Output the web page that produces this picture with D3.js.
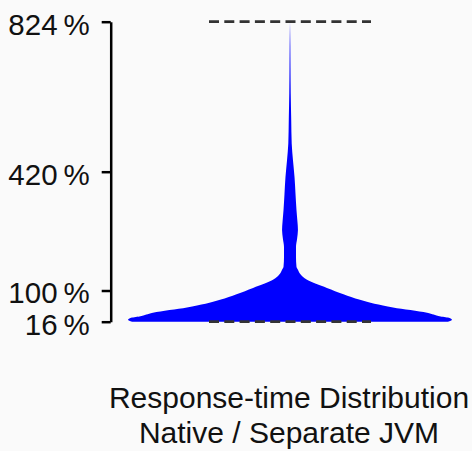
<!DOCTYPE html>
<html>
<head>
<meta charset="utf-8">
<script src="https://cdn.jsdelivr.net/npm/d3@7"></script>
<style>
  body { margin: 0; background: #fafafa; }
  svg { display: block; }
  text { font-family: "Liberation Sans", sans-serif; fill: #111; }
</style>
</head>
<body>
<div id="chart"></div>
<script>
// response time levels (percent) and relative kernel density
var levels  = [16, 21, 26, 30, 40, 54, 75, 90, 107, 118, 129, 145, 156, 164, 190, 217, 240, 263, 285, 317, 360, 405, 450, 496, 560, 631, 700, 760, 824];
var density = [0.975, 1.0, 0.985, 0.93, 0.846, 0.636, 0.432, 0.33, 0.228, 0.16, 0.105, 0.062, 0.049, 0.040, 0.037, 0.037, 0.044, 0.049, 0.046, 0.040, 0.034, 0.028, 0.0185, 0.0105, 0.0075, 0.0045, 0.003, 0.002, 0];

// extrema of the distribution (dashed lines) and y tick values
var extrema = [16, 824];
var tickVals = [16, 100, 420, 824];
var xLabel = ["Response-time Distribution", "Native / Separate JVM"];

var width = 472, height = 451;

var svg = d3.select("#chart")
    .append("svg")
    .attr("width", width)
    .attr("height", height);

var y = d3.scaleLinear()
    .domain([16, 824])
    .range([321.7, 21.7]);

// density -> horizontal offset around the violin centre
var x = d3.scaleLinear()
    .domain([-1, 1])
    .range([128, 452]);

var pts = levels.map(function(v, i) { return {v: v, d: density[i]}; });

var area = d3.area()
    .curve(d3.curveMonotoneY)
    .y(function(d) { return y(d.v); })
    .x0(function(d) { return x(-d.d); })
    .x1(function(d) { return x(d.d); });

svg.append("path")
    .datum(pts)
    .attr("d", area)
    .attr("fill", "#0000ff");

// dashed min / max lines
svg.selectAll(".ext")
    .data(extrema)
    .enter().append("line")
    .attr("class", "ext")
    .attr("x1", x(-0.5))
    .attr("x2", x(0.5))
    .attr("y1", function(d) { return y(d); })
    .attr("y2", function(d) { return y(d); })
    .attr("stroke", "#333")
    .attr("stroke-width", 2.7)
    .attr("stroke-dasharray", "10,5.3");

// y axis
var yAxis = svg.append("g")
    .attr("transform", "translate(110.7,0)")
    .call(d3.axisLeft(y)
        .tickValues(tickVals)
        .tickSize(9)
        .tickSizeOuter(0)
        .tickPadding(12)
        .tickFormat(function(d) { return d + "\u2009%"; }));

yAxis.select(".domain").attr("stroke", "#000").attr("stroke-width", 2.5);
yAxis.selectAll(".tick line").attr("stroke", "#000").attr("stroke-width", 2.5);
yAxis.selectAll(".tick text")
    .attr("font-family", "Liberation Sans, sans-serif")
    .attr("font-size", 29.5)
    .attr("dy", "0.42em")
    .attr("fill", "#111");

// x label, two lines
svg.selectAll(".xlabel")
    .data(xLabel)
    .enter().append("text")
    .attr("class", "xlabel")
    .attr("x", 289)
    .attr("y", function(d, i) { return 407.7 + i * 35.6; })
    .attr("text-anchor", "middle")
    .style("font-size", "30px")
    .text(function(d) { return d; });
</script>
</body>
</html>
